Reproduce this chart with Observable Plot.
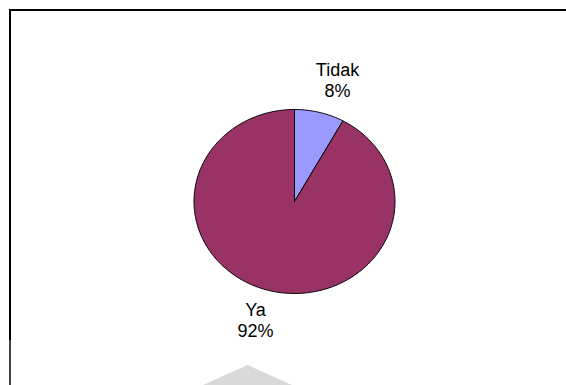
<!DOCTYPE html>
<html>
<head>
<meta charset="utf-8">
<script src="https://cdn.jsdelivr.net/npm/d3@7"></script>
<script src="https://cdn.jsdelivr.net/npm/@observablehq/plot@0.6"></script>
<style>
  html, body { margin: 0; padding: 0; background: #fff; }
  #wrap { position: relative; width: 566px; height: 385px; overflow: hidden; }
  #top { position: absolute; left: 9px; top: 9px; width: 557px; height: 2px; background: #000; }
  #left { position: absolute; left: 9px; top: 9px; width: 2px; height: 331px; background: #000; }
  #left2 { position: absolute; left: 9px; top: 340px; width: 2px; height: 45px; background: #444; }
  #wm { position: absolute; left: 203px; top: 365px; width: 89px; height: 20px; background: #d9d9d9;
        clip-path: polygon(50% 0, 100% 100%, 0 100%); }
  #chart { position: absolute; left: 0; top: 0; }
  #chart svg { background: transparent !important; }
</style>
</head>
<body>
<div id="wrap">
  <div id="wm"></div>
  <div id="top"></div>
  <div id="left"></div>
  <div id="left2"></div>
  <div id="chart"></div>
</div>
<script>
const categories = ["Tidak", "Ya"];
const values = [8, 92];
const percentLabels = ["8%", "92%"];
const colors = ["#9999FF", "#993366"];

const total = d3.sum(values);
const arcs = d3.pie().sort(null).value(d => d)(values);

// Build slice outlines (center -> arc -> center) from the pie angles
const slices = arcs.map((a, i) => {
  const n = Math.max(8, Math.ceil((a.endAngle - a.startAngle) * 60));
  const pts = [{x: 0, y: 0}];
  for (let k = 0; k <= n; k++) {
    const t = a.startAngle + (a.endAngle - a.startAngle) * k / n;
    pts.push({x: Math.sin(t), y: Math.cos(t)});
  }
  pts.push({x: 0, y: 0});
  return {cat: categories[i], pts};
});

const labels = arcs.map((a, i) => {
  const mid = (a.startAngle + a.endAngle) / 2;
  return {
    cat: categories[i],
    text: categories[i] + "\n" + percentLabels[i],
    x: Math.sin(mid) * 1.64,
    y: Math.cos(mid) * 1.345
  };
});

const plot = Plot.plot({
  width: 566,
  height: 385,
  margin: 0,
  x: {domain: [-1, 1], range: [193.5, 394.5], axis: null},
  y: {domain: [-1, 1], range: [293, 109], axis: null},
  style: {background: "transparent"},
  marks: [
    ...slices.map((s, i) => Plot.line(s.pts, {
      x: "x", y: "y", fill: colors[i], stroke: "#000", strokeWidth: 1, curve: "linear", strokeLinejoin: "round"
    })),
    Plot.text(labels, {
      x: "x", y: "y", text: "text", dx: 2, dy: -1.5,
      fontSize: 18, lineHeight: 1.15, fill: "#000",
      fontFamily: "Liberation Sans, Arial, sans-serif", textAnchor: "middle", lineAnchor: "middle"
    })
  ]
});
document.getElementById("chart").appendChild(plot);
</script>
</body>
</html>
